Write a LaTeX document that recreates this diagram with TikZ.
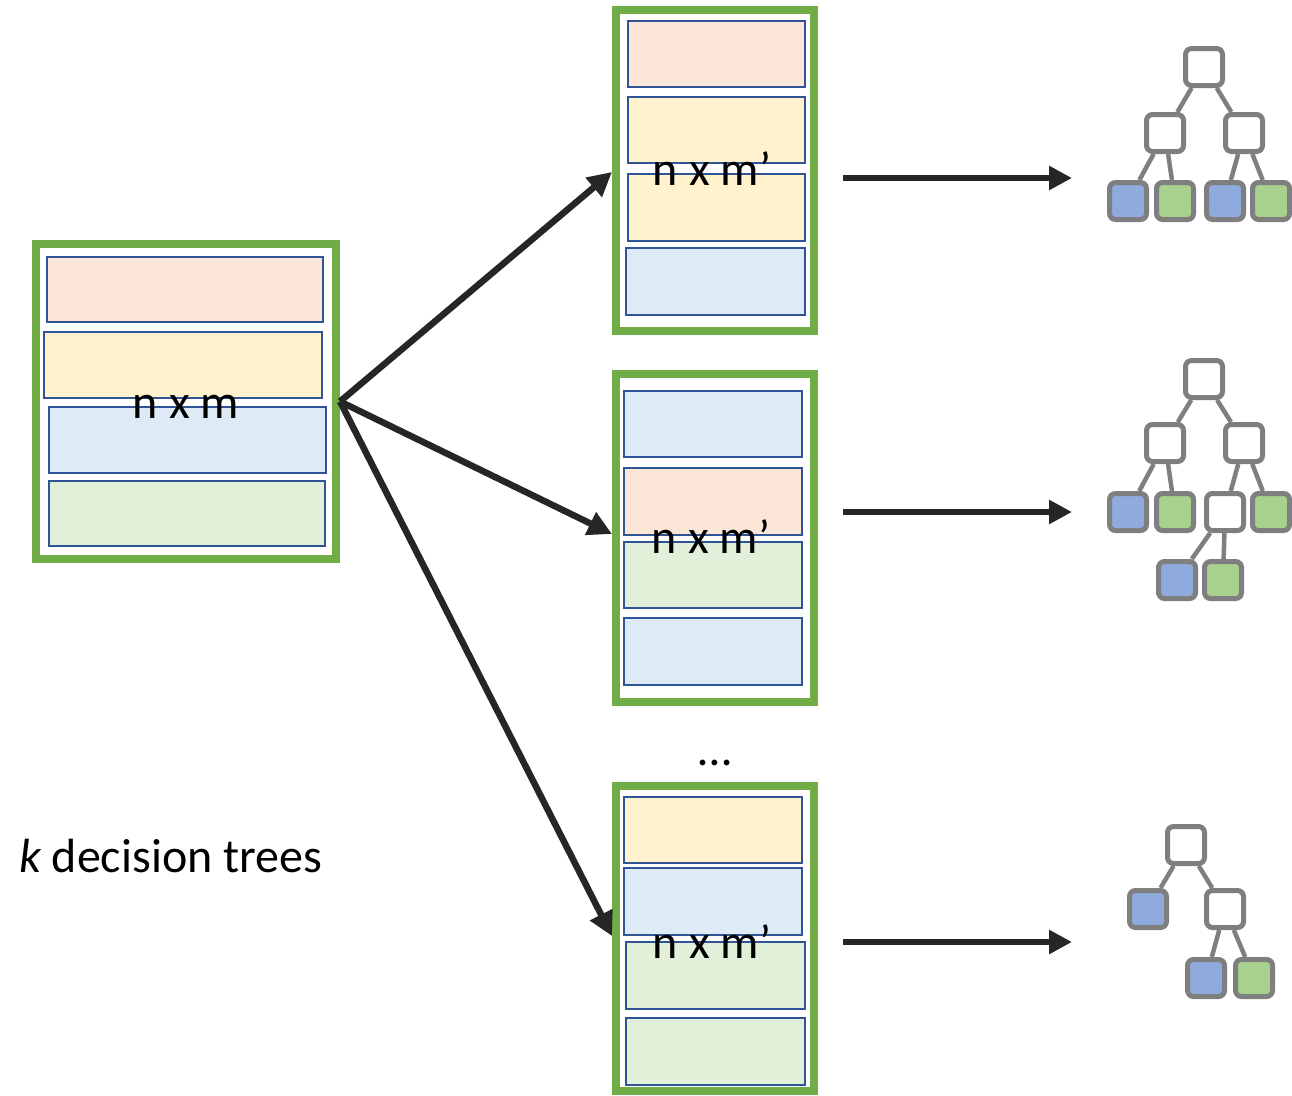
\documentclass[tikz,border=0pt]{standalone}
\usepackage{fontspec}
\setmainfont{Carlito}
\usetikzlibrary{arrows.meta}
\definecolor{frameG}{HTML}{70AD47}
\definecolor{stripeB}{HTML}{2F5597}
\definecolor{peach}{HTML}{FBE5D6}
\definecolor{yel}{HTML}{FFF2CC}
\definecolor{lblue}{HTML}{DEEBF7}
\definecolor{lgreen}{HTML}{E2F0D9}
\definecolor{tgray}{HTML}{7F7F7F}
\definecolor{tblue}{HTML}{8FAADC}
\definecolor{tgreen}{HTML}{A9D18E}
\definecolor{arr}{HTML}{262626}
\tikzset{
  frame/.style={draw=frameG, line width=8pt, fill=white, rectangle, inner sep=0pt},
  stripe/.style={draw=stripeB, line width=2.2pt},
  lbl/.style={font=\fontsize{48}{52}\selectfont, inner sep=0pt, anchor=base},
  bigarrow/.style={draw=arr, line width=6.5pt, -{Triangle[length=24pt,width=24pt]}},
  harrow/.style={draw=arr, line width=6.5pt, -{Triangle[length=23pt,width=23pt]}},
  tnode/.style={draw=tgray, line width=5pt, rounded corners=6pt, rectangle, minimum size=37pt, inner sep=0pt, fill=white},
  tleafb/.style={tnode, fill=tblue},
  tleafg/.style={tnode, fill=tgreen},
  tedge/.style={draw=tgray, line width=4.5pt}
}
\begin{document}
\begin{tikzpicture}[x=1pt,y=-1pt]
\useasboundingbox (0,0) rectangle (1292,1095);
% frames
\node[frame, minimum width=300pt, minimum height=315pt] (L) at (186,401.5) {};
\node[frame, minimum width=198pt, minimum height=321pt] (T) at (715,170.5) {};
\node[frame, minimum width=198pt, minimum height=328pt] (M) at (715,538) {};
\node[frame, minimum width=198pt, minimum height=305pt] (B) at (715,938.5) {};
% left stripes
\draw[stripe, fill=peach] (47,257) rectangle (323,322);
\draw[stripe, fill=yel] (44,332) rectangle (322,398);
\draw[stripe, fill=lblue] (49,407) rectangle (326,473);
\draw[stripe, fill=lgreen] (49,481) rectangle (325,546);
% top stripes
\draw[stripe, fill=peach] (628,21) rectangle (805,87);
\draw[stripe, fill=yel] (628,97) rectangle (805,163);
\draw[stripe, fill=yel] (628,174) rectangle (805,241);
\draw[stripe, fill=lblue] (626,248) rectangle (805,315);
% middle stripes
\draw[stripe, fill=lblue] (624,391) rectangle (802,457);
\draw[stripe, fill=peach] (624,468) rectangle (802,535);
\draw[stripe, fill=lgreen] (624,542) rectangle (802,608);
\draw[stripe, fill=lblue] (624,618) rectangle (802,685);
% bottom stripes
\draw[stripe, fill=yel] (624,797) rectangle (802,863);
\draw[stripe, fill=lblue] (624,868) rectangle (802,935);
\draw[stripe, fill=lgreen] (626,942) rectangle (805,1009);
\draw[stripe, fill=lgreen] (626,1018) rectangle (805,1085);
% labels
\node[lbl] (tL) at (186,418) {n x m};
\node[lbl] (tT) at (712,185) {n x m’};
\node[lbl] (tM) at (711,553) {n x m’};
\node[lbl] (tB) at (712,958) {n x m’};
\node[lbl] (dots) at (715,765) {…};
\node[lbl, anchor=base west] (kdt) at (19,872) {\itshape k\upshape{} decision trees};
% diagonal arrows
\draw[bigarrow] (L.east) -- (T.west |- 0,172);
\draw[bigarrow] (L.east) -- (M.west |- 0,534);
\draw[bigarrow] (L.east) -- (B.west |- 0,936);
% horizontal arrows
\coordinate (h1s) at (843,178); \coordinate (h1e) at (1072,178);
\coordinate (h2s) at (843,512); \coordinate (h2e) at (1072,512);
\coordinate (h3s) at (843,942); \coordinate (h3e) at (1072,942);
\draw[harrow] (h1s) -- (h1e);
\draw[harrow] (h2s) -- (h2e);
\draw[harrow] (h3s) -- (h3e);
% tree 1
\node[tnode] (a0) at (1204,67) {};
\node[tnode] (a1) at (1165,133) {};
\node[tnode] (a2) at (1244,133) {};
\node[tleafb] (a3) at (1128,201) {};
\node[tleafg] (a4) at (1175,201) {};
\node[tleafb] (a5) at (1225,201) {};
\node[tleafg] (a6) at (1271,201) {};
\draw[tedge] (a0) -- (a1); \draw[tedge] (a0) -- (a2);
\draw[tedge] (a1) -- (a3); \draw[tedge] (a1) -- (a4);
\draw[tedge] (a2) -- (a5); \draw[tedge] (a2) -- (a6);
% tree 2
\node[tnode] (b0) at (1204,379) {};
\node[tnode] (b1) at (1165,443) {};
\node[tnode] (b2) at (1244,443) {};
\node[tleafb] (b3) at (1128,512) {};
\node[tleafg] (b4) at (1175,512) {};
\node[tnode] (b5) at (1225,512) {};
\node[tleafg] (b6) at (1271,512) {};
\node[tleafb] (b7) at (1177,580) {};
\node[tleafg] (b8) at (1223,580) {};
\draw[tedge] (b0) -- (b1); \draw[tedge] (b0) -- (b2);
\draw[tedge] (b1) -- (b3); \draw[tedge] (b1) -- (b4);
\draw[tedge] (b2) -- (b5); \draw[tedge] (b2) -- (b6);
\draw[tedge] (b5) -- (b7); \draw[tedge] (b5) -- (b8);
% tree 3
\node[tnode] (c0) at (1186,845) {};
\node[tleafb] (c1) at (1148,909) {};
\node[tnode] (c2) at (1225,909) {};
\node[tleafb] (c3) at (1206,978) {};
\node[tleafg] (c4) at (1254,978) {};
\draw[tedge] (c0) -- (c1); \draw[tedge] (c0) -- (c2);
\draw[tedge] (c2) -- (c3); \draw[tedge] (c2) -- (c4);
\end{tikzpicture}
\end{document}
